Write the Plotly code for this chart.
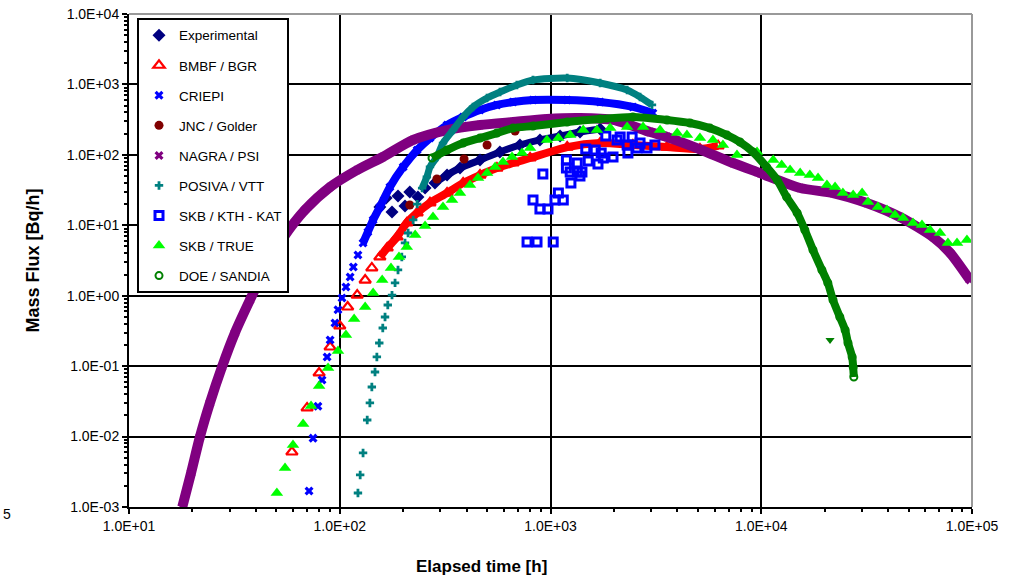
import plotly.graph_objects as go

# ---------------- data ----------------
exp_x = [155, 166, 177, 189, 204, 215, 235, 254, 283, 323, 372, 463, 575, 716, 891, 1110, 1380, 1720]
exp_y = [18.2, 24.4, 15.5, 26.1, 18.8, 29.7, 25.2, 33.8, 39.8, 51.7, 65.0, 84.5, 110, 138, 163, 185, 211, 233]

bmbf_x = [59.3, 70.0, 79.8, 90.0, 100, 109, 121, 132, 142, 155, 168, 187, 208, 233, 268, 323, 385, 463,
          557, 664, 800, 1200, 1720, 2460, 3570, 5120, 6240]
bmbf_y = [0.00604, 0.0255, 0.080, 0.187, 0.372, 0.692, 1.02, 1.67, 2.48, 3.55, 4.76, 6.83, 10.8, 15.0,
          20.8, 28.7, 39.8, 51.7, 65.0, 76.6, 90.2, 129, 147, 138, 129, 121, 134]

criepi_x = [71.5, 74.7, 78.8, 82.4, 87.1, 90.0, 94.9, 98.1, 102.5, 107, 112, 116, 122, 129, 136, 144, 155,
            173, 200, 233, 268, 323, 385, 463, 557, 664, 826, 1200, 1720, 2460, 3060]
criepi_y = [0.00169, 0.0095, 0.027, 0.0636, 0.135, 0.235, 0.41, 0.63, 0.93, 1.33, 1.85, 2.56, 3.79, 5.61,
            8.04, 11.9, 18.2, 35.0, 67.3, 117, 173, 265, 345, 434, 511, 563, 601, 601, 563, 479, 393]

jnc_x = [215, 289, 389, 500, 679]
jnc_y = [19.4, 45.4, 87.4, 138, 218]

nagra_x = [17.9, 19.7, 21.7, 24.2, 27.6, 31.8, 37.5, 44.7, 54.3, 68.4, 90.0, 121, 160, 223, 323, 463, 664,
           962, 1380, 1980, 2970, 3570, 5120, 7340, 9860, 15300, 21900, 31700, 45500, 65300, 78700, 97700]
nagra_y = [0.001, 0.00304, 0.0099, 0.030, 0.097, 0.296, 0.87, 2.56, 6.83, 16.5, 35.0, 61.0, 93.3, 163, 225,
           265, 293, 323, 333, 313, 211, 180, 120, 76.6, 55.2, 33.8, 28.7, 20.7, 13.1, 6.8, 4.05, 1.67]

posiva_x = [122, 125, 129, 135, 139, 142, 147, 150, 154, 160, 164, 169, 177, 183, 189, 197, 204, 211, 223,
            233, 246, 259, 268, 289, 309, 345, 385, 429, 500, 576, 693, 826, 1200, 1720, 2310, 2660, 3030]
posiva_y = [0.00158, 0.00285, 0.00585, 0.0172, 0.030, 0.0506, 0.0826, 0.135, 0.213, 0.348, 0.499, 0.738,
            1.02, 1.52, 2.32, 3.55, 5.61, 7.77, 11.9, 20.0, 33.8, 48.5, 67.3, 93.3, 147, 225, 345, 479, 642,
            781, 982, 1156, 1234, 1048, 833, 664, 511]

kth_x = [774, 863, 1030, 826, 891, 973, 920, 1090, 1050, 1150, 1190, 1190, 1250, 1240, 1340, 1340, 1410,
         1380, 1470, 1510, 1630, 1680, 1740, 1780, 1830, 1980, 2070, 2140, 2310, 2330, 2440, 2570, 2660,
         2870, 3130]
kth_y = [5.8, 5.8, 5.8, 22.9, 17.0, 17.0, 53.5, 28.7, 22.9, 22.9, 84.5, 65.0, 39.8, 57.1, 76.6, 57.1, 57.1,
         50.1, 121, 81.8, 117, 74.1, 106, 90.2, 185, 93.3, 163, 180, 138, 106, 180, 125, 147, 125, 138]

true_x = [50.3, 55.0, 60.0, 67.0, 73.1, 79.8, 88.0, 98.1, 107, 117, 132, 144, 159, 175, 191, 208, 228, 254,
          277, 309, 341, 372, 415, 453, 500, 546, 595, 657, 732, 800, 962, 1090, 1240, 1430, 1660, 1920,
          2310, 2750, 3310, 3990, 4440, 5120, 5900, 6580, 7670, 9550, 11400, 12500, 13700, 15300, 17000,
          18600, 20500, 22400, 24400, 27300, 30100, 32100, 35800, 39500, 43100, 47100, 52500, 57900, 63200,
          70500, 76900, 84900, 94600]
true_y = [0.00158, 0.00358, 0.00759, 0.0151, 0.0272, 0.0522, 0.0942, 0.164, 0.277, 0.467, 0.692, 1.09,
          1.67, 2.48, 3.55, 4.92, 7.28, 9.77, 13.1, 18.2, 22.9, 28.7, 37.3, 46.9, 55.2, 67.3, 79.2, 93.3,
          106, 125, 163, 173, 191, 225, 225, 240, 249, 249, 225, 204, 191, 173, 163, 138, 99.5, 110, 84.5,
          71.8, 61.0, 55.2, 51.7, 46.9, 37.3, 35.0, 28.7, 26.9, 28.7, 21.4, 18.2, 16.5, 14.0, 12.7, 10.8,
          10.1, 8.57, 7.77, 5.61, 5.61, 6.18]

doe_x = [274, 323, 385, 463, 557, 664, 826, 1200, 1720, 2460, 3570, 4590, 5710, 6880, 7930, 9140, 10600,
         11900, 13200, 14800, 16100, 17600, 19400, 20700, 21900, 23600, 25000, 25800, 27000, 27300, 27500]
doe_y = [90.2, 117, 147, 173, 204, 240, 257, 293, 323, 345, 313, 283, 240, 191, 152, 110, 67.3, 44.0, 25.2,
         15.0, 8.57, 4.46, 2.32, 1.52, 0.87, 0.499, 0.326, 0.213, 0.135, 0.097, 0.070]
doe_extra_x = [21200]
doe_extra_y = [0.235]

x_tick_vals = [1e1, 1e2, 1e3, 1e4, 1e5]
x_tick_text = ["1.0E+01", "1.0E+02", "1.0E+03", "1.0E+04", "1.0E+05"]
y_tick_vals = [1e-3, 1e-2, 1e-1, 1e0, 1e1, 1e2, 1e3, 1e4]
y_tick_text = ["1.0E-03", "1.0E-02", "1.0E-01", "1.0E+00", "1.0E+01", "1.0E+02", "1.0E+03", "1.0E+04"]

FONT = "Liberation Sans, Arial, sans-serif"

fig = go.Figure()


def band(name, xs, ys, color, width, start=0):
    fig.add_trace(go.Scatter(x=xs[start:], y=ys[start:], mode="lines", legendgroup=name, showlegend=False,
                             line=dict(color=color, width=width, shape="spline", smoothing=0.7),
                             hoverinfo="skip"))


def pts(name, xs, ys, color, symbol, size, lw=0, show=True):
    fig.add_trace(go.Scatter(x=xs, y=ys, mode="markers", name=name, legendgroup=name, showlegend=show,
                             marker=dict(color=color, symbol=symbol, size=size,
                                         line=dict(color=color, width=lw))))


band("Experimental", exp_x, exp_y, "#000080", 7, 8)
pts("Experimental", exp_x, exp_y, "#000080", "diamond", 10)
band("BMBF / BGR", bmbf_x, bmbf_y, "#FF0000", 8, 9)
pts("BMBF / BGR", bmbf_x, bmbf_y, "#FF0000", "triangle-up-open", 10, 2.2)
band("CRIEPI", criepi_x, criepi_y, "#0000FF", 8, 13)
pts("CRIEPI", criepi_x, criepi_y, "#0000FF", "x", 8)
pts("JNC / Golder", jnc_x, jnc_y, "#800000", "circle", 9)
band("NAGRA / PSI", nagra_x, nagra_y, "#800080", 10)
pts("NAGRA / PSI", nagra_x, nagra_y, "#800080", "x", 8)
band("POSIVA / VTT", posiva_x, posiva_y, "#008080", 7, 20)
pts("POSIVA / VTT", posiva_x, posiva_y, "#008080", "cross", 7)
pts("SKB / KTH - KAT", kth_x, kth_y, "#0000FF", "square-open", 8, 3)
pts("SKB / TRUE", true_x, true_y, "#00FF00", "triangle-up", 11)
band("DOE / SANDIA", doe_x, doe_y, "#008000", 8)
pts("DOE / SANDIA", doe_x, doe_y, "#008000", "circle-open", 7, 2)
pts("DOE / SANDIA", doe_extra_x, doe_extra_y, "#008000", "triangle-down", 8, 0, show=False)

minor_x = [m * 10 ** e for e in range(1, 5) for m in range(2, 10)]
minor_y = [m * 10.0 ** e for e in range(-3, 4) for m in range(2, 10)]

axis_common = dict(type="log", showgrid=True, gridcolor="black", showline=True, linecolor="black",
                   linewidth=2, ticks="outside", ticklen=5, tickwidth=2, tickcolor="black",
                   tickfont=dict(family=FONT, size=14, color="black"), zeroline=False, automargin=False)

fig.update_xaxes(range=[1, 5], tickvals=x_tick_vals, ticktext=x_tick_text, gridwidth=1.5,
                 minor=dict(tickvals=minor_x, ticks="outside", ticklen=3, tickwidth=1.5,
                            tickcolor="black", showgrid=False), **axis_common)
fig.update_yaxes(range=[-3, 4], tickvals=y_tick_vals, ticktext=y_tick_text, gridwidth=2,
                 minor=dict(tickvals=minor_y, ticks="outside", ticklen=3, tickwidth=1.5,
                            tickcolor="black", showgrid=False), **axis_common)

fig.update_layout(
    template="none",
    width=1025, height=581,
    margin=dict(l=129, r=53, t=14, b=74, pad=0),
    plot_bgcolor="white", paper_bgcolor="white",
    font=dict(family=FONT, color="black"),
    legend=dict(x=0.0095, y=0.992, xanchor="left", yanchor="top", bgcolor="white",
                bordercolor="black", borderwidth=2, traceorder="grouped", tracegroupgap=9.5,
                font=dict(family=FONT, size=13.5, color="black"), itemwidth=30),
    shapes=[
        dict(type="line", xref="paper", yref="paper", x0=0, x1=1, y0=1, y1=1,
             line=dict(color="#999999", width=2), layer="above"),
        dict(type="line", xref="paper", yref="paper", x0=1, x1=1, y0=0, y1=1,
             line=dict(color="#999999", width=2), layer="above"),
    ],
    annotations=[
        dict(text="<b>Elapsed time [h]</b>", xref="paper", yref="paper", x=0.4176, y=-0.12,
             xanchor="center", yanchor="middle", showarrow=False,
             font=dict(family=FONT, size=17, color="black")),
        dict(text="<b>Mass Flux [Bq/h]</b>", xref="paper", yref="paper", x=-0.115, y=0.5,
             xanchor="center", yanchor="middle", textangle=-90, showarrow=False,
             font=dict(family=FONT, size=18, color="black")),
        dict(text="5", xref="paper", yref="paper", x=-0.152, y=-0.014, xanchor="left",
             yanchor="middle", showarrow=False, font=dict(family=FONT, size=14, color="black")),
    ],
)

fig.write_html("out.html", config={"displayModeBar": False},
               post_script="document.body.style.margin='0';")
